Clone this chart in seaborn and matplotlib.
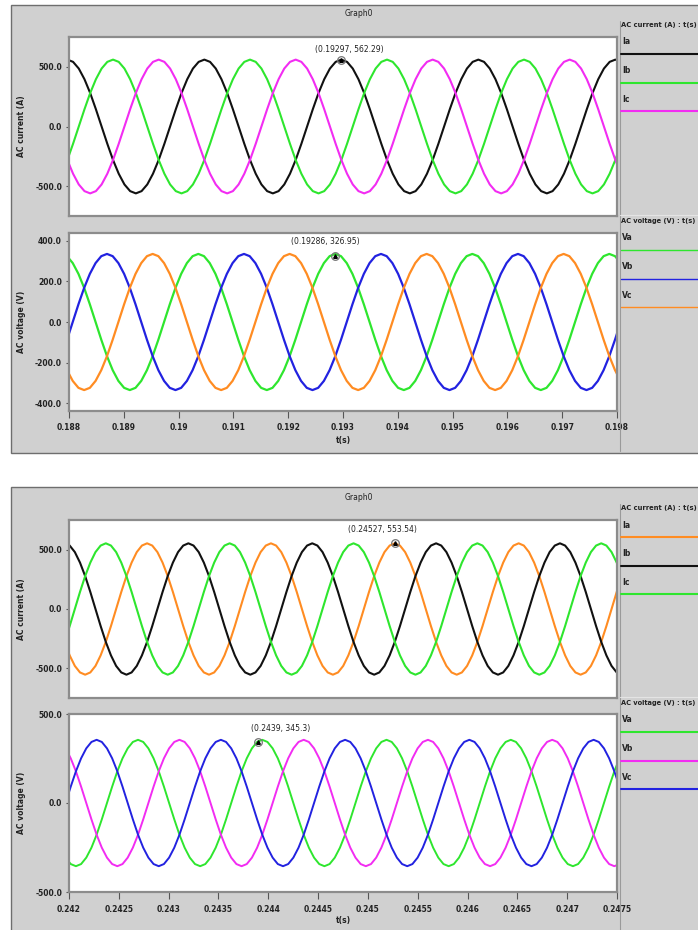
import numpy as np
import pandas as pd
import matplotlib
matplotlib.use("Agg")
import matplotlib.pyplot as plt
import seaborn as sns
from matplotlib.lines import Line2D
from matplotlib.patches import Rectangle

# ---------------- data ----------------
# Screenshot 1: t = 0.188 .. 0.198 s
t_cur1 = np.linspace(0.18797, 0.198074, 98)
ia1 = [562, 543, 487, 397, 281, 145, 0, -145, -281, -397, -487, -543, -562, -543, -487, -397, -281, -145, 0, 145, 281, 397, 487, 543,
       562, 543, 487, 397, 281, 145, 0, -145, -281, -397, -487, -543, -562, -543, -487, -397, -281, -145, 0, 145, 281, 397, 487, 543,
       562, 543, 487, 397, 281, 145, 0, -145, -281, -397, -487, -543, -562, -543, -487, -397, -281, -145, 0, 145, 281, 397, 487, 543,
       562, 543, 487, 397, 281, 145, 0, -145, -281, -397, -487, -543, -562, -543, -487, -397, -281, -145, 0, 145, 281, 397, 487, 543,
       562, 543]
ib1 = [-281, -145, 0, 145, 281, 397, 487, 543, 562, 543, 487, 397, 281, 145, 0, -145, -281, -397, -487, -543, -562, -543, -487, -397,
       -281, -145, 0, 145, 281, 397, 487, 543, 562, 543, 487, 397, 281, 145, 0, -145, -281, -397, -487, -543, -562, -543, -487, -397,
       -281, -145, 0, 145, 281, 397, 487, 543, 562, 543, 487, 397, 281, 145, 0, -145, -281, -397, -487, -543, -562, -543, -487, -397,
       -281, -145, 0, 145, 281, 397, 487, 543, 562, 543, 487, 397, 281, 145, 0, -145, -281, -397, -487, -543, -562, -543, -487, -397,
       -281, -145]
ic1 = [-281, -397, -487, -543, -562, -543, -487, -397, -281, -145, 0, 145, 281, 397, 487, 543, 562, 543, 487, 397, 281, 145, 0, -145,
       -281, -397, -487, -543, -562, -543, -487, -397, -281, -145, 0, 145, 281, 397, 487, 543, 562, 543, 487, 397, 281, 145, 0, -145,
       -281, -397, -487, -543, -562, -543, -487, -397, -281, -145, 0, 145, 281, 397, 487, 543, 562, 543, 487, 397, 281, 145, 0, -145,
       -281, -397, -487, -543, -562, -543, -487, -397, -281, -145, 0, 145, 281, 397, 487, 543, 562, 543, 487, 397, 281, 145, 0, -145,
       -281, -397]

t_vol1 = np.linspace(0.187964, 0.198068, 98)
va1 = [324, 290, 237, 168, 87, 0, -87, -168, -237, -290, -324, -335, -324, -290, -237, -168, -87, 0, 87, 168, 237, 290, 324, 335,
       324, 290, 237, 168, 87, 0, -87, -168, -237, -290, -324, -335, -324, -290, -237, -168, -87, 0, 87, 168, 237, 290, 324, 335,
       324, 290, 237, 168, 87, 0, -87, -168, -237, -290, -324, -335, -324, -290, -237, -168, -87, 0, 87, 168, 237, 290, 324, 335,
       324, 290, 237, 168, 87, 0, -87, -168, -237, -290, -324, -335, -324, -290, -237, -168, -87, 0, 87, 168, 237, 290, 324, 335,
       324, 290]
vb1 = [-87, 0, 87, 168, 237, 290, 324, 335, 324, 290, 237, 168, 87, 0, -87, -168, -237, -290, -324, -335, -324, -290, -237, -168,
       -87, 0, 87, 168, 237, 290, 324, 335, 324, 290, 237, 168, 87, 0, -87, -168, -237, -290, -324, -335, -324, -290, -237, -168,
       -87, 0, 87, 168, 237, 290, 324, 335, 324, 290, 237, 168, 87, 0, -87, -168, -237, -290, -324, -335, -324, -290, -237, -168,
       -87, 0, 87, 168, 237, 290, 324, 335, 324, 290, 237, 168, 87, 0, -87, -168, -237, -290, -324, -335, -324, -290, -237, -168,
       -87, 0]
vc1 = [-237, -290, -324, -335, -324, -290, -237, -168, -87, 0, 87, 168, 237, 290, 324, 335, 324, 290, 237, 168, 87, 0, -87, -168,
       -237, -290, -324, -335, -324, -290, -237, -168, -87, 0, 87, 168, 237, 290, 324, 335, 324, 290, 237, 168, 87, 0, -87, -168,
       -237, -290, -324, -335, -324, -290, -237, -168, -87, 0, 87, 168, 237, 290, 324, 335, 324, 290, 237, 168, 87, 0, -87, -168,
       -237, -290, -324, -335, -324, -290, -237, -168, -87, 0, 87, 168, 237, 290, 324, 335, 324, 290, 237, 168, 87, 0, -87, -168,
       -237, -290]

# Screenshot 2: t = 0.242 .. 0.2475 s
t_cur2 = np.linspace(0.241955, 0.247549, 109)
ia2 = [-278, -392, -481, -536, -555, -536, -481, -392, -278, -144, 0, 144, 278, 392, 481, 536, 555, 536, 481, 392, 278, 144, 0, -144,
       -278, -392, -481, -536, -555, -536, -481, -392, -278, -144, 0, 144, 278, 392, 481, 536, 555, 536, 481, 392, 278, 144, 0, -144,
       -278, -392, -481, -536, -555, -536, -481, -392, -278, -144, 0, 144, 278, 392, 481, 536, 555, 536, 481, 392, 278, 144, 0, -144,
       -278, -392, -481, -536, -555, -536, -481, -392, -278, -144, 0, 144, 278, 392, 481, 536, 555, 536, 481, 392, 278, 144, 0, -144,
       -278, -392, -481, -536, -555, -536, -481, -392, -278, -144, 0, 144, 278]
ib2 = [555, 536, 481, 392, 278, 144, 0, -144, -278, -392, -481, -536, -555, -536, -481, -392, -278, -144, 0, 144, 278, 392, 481, 536,
       555, 536, 481, 392, 278, 144, 0, -144, -278, -392, -481, -536, -555, -536, -481, -392, -278, -144, 0, 144, 278, 392, 481, 536,
       555, 536, 481, 392, 278, 144, 0, -144, -278, -392, -481, -536, -555, -536, -481, -392, -278, -144, 0, 144, 278, 392, 481, 536,
       555, 536, 481, 392, 278, 144, 0, -144, -278, -392, -481, -536, -555, -536, -481, -392, -278, -144, 0, 144, 278, 392, 481, 536,
       555, 536, 481, 392, 278, 144, 0, -144, -278, -392, -481, -536, -555]
ic2 = [-278, -144, 0, 144, 278, 392, 481, 536, 555, 536, 481, 392, 278, 144, 0, -144, -278, -392, -481, -536, -555, -536, -481, -392,
       -278, -144, 0, 144, 278, 392, 481, 536, 555, 536, 481, 392, 278, 144, 0, -144, -278, -392, -481, -536, -555, -536, -481, -392,
       -278, -144, 0, 144, 278, 392, 481, 536, 555, 536, 481, 392, 278, 144, 0, -144, -278, -392, -481, -536, -555, -536, -481, -392,
       -278, -144, 0, 144, 278, 392, 481, 536, 555, 536, 481, 392, 278, 144, 0, -144, -278, -392, -481, -536, -555, -536, -481, -392,
       -278, -144, 0, 144, 278, 392, 481, 536, 555, 536, 481, 392, 278]

t_vol2 = np.linspace(0.2419655, 0.2475252, 108)
va2 = [-307, -343, -355, -343, -307, -251, -178, -92, 0, 92, 178, 251, 307, 343, 355, 343, 307, 251, 178, 92, 0, -92, -178, -251,
       -307, -343, -355, -343, -307, -251, -178, -92, 0, 92, 178, 251, 307, 343, 355, 343, 307, 251, 178, 92, 0, -92, -178, -251,
       -307, -343, -355, -343, -307, -251, -178, -92, 0, 92, 178, 251, 307, 343, 355, 343, 307, 251, 178, 92, 0, -92, -178, -251,
       -307, -343, -355, -343, -307, -251, -178, -92, 0, 92, 178, 251, 307, 343, 355, 343, 307, 251, 178, 92, 0, -92, -178, -251,
       -307, -343, -355, -343, -307, -251, -178, -92, 0, 92, 178, 251]
vb2 = [307, 251, 178, 92, 0, -92, -178, -251, -307, -343, -355, -343, -307, -251, -178, -92, 0, 92, 178, 251, 307, 343, 355, 343,
       307, 251, 178, 92, 0, -92, -178, -251, -307, -343, -355, -343, -307, -251, -178, -92, 0, 92, 178, 251, 307, 343, 355, 343,
       307, 251, 178, 92, 0, -92, -178, -251, -307, -343, -355, -343, -307, -251, -178, -92, 0, 92, 178, 251, 307, 343, 355, 343,
       307, 251, 178, 92, 0, -92, -178, -251, -307, -343, -355, -343, -307, -251, -178, -92, 0, 92, 178, 251, 307, 343, 355, 343,
       307, 251, 178, 92, 0, -92, -178, -251, -307, -343, -355, -343]
vc2 = [0, 92, 178, 251, 307, 343, 355, 343, 307, 251, 178, 92, 0, -92, -178, -251, -307, -343, -355, -343, -307, -251, -178, -92,
       0, 92, 178, 251, 307, 343, 355, 343, 307, 251, 178, 92, 0, -92, -178, -251, -307, -343, -355, -343, -307, -251, -178, -92,
       0, 92, 178, 251, 307, 343, 355, 343, 307, 251, 178, 92, 0, -92, -178, -251, -307, -343, -355, -343, -307, -251, -178, -92,
       0, 92, 178, 251, 307, 343, 355, 343, 307, 251, 178, 92, 0, -92, -178, -251, -307, -343, -355, -343, -307, -251, -178, -92,
       0, 92, 178, 251, 307, 343, 355, 343, 307, 251, 178, 92]

# cursor read-outs
cursor_cur1 = (0.19297, 562.29)
cursor_vol1 = (0.19286, 326.95)
cursor_cur2 = (0.24527, 553.54)
cursor_vol2 = (0.2439, 345.3)

# ticks
x_ticks1 = [0.188, 0.189, 0.19, 0.191, 0.192, 0.193, 0.194, 0.195, 0.196, 0.197, 0.198]
x_labels1 = ["0.188", "0.189", "0.19", "0.191", "0.192", "0.193", "0.194",
             "0.195", "0.196", "0.197", "0.198"]
x_ticks2 = [0.242, 0.2425, 0.243, 0.2435, 0.244, 0.2445, 0.245, 0.2455,
            0.246, 0.2465, 0.247, 0.2475]
x_labels2 = ["0.242", "0.2425", "0.243", "0.2435", "0.244", "0.2445", "0.245",
             "0.2455", "0.246", "0.2465", "0.247", "0.2475"]
i_ticks = [-500, 0, 500]
i_labels = ["-500.0", "0.0", "500.0"]
v_ticks1 = [-400, -200, 0, 200, 400]
v_labels1 = ["-400.0", "-200.0", "0.0", "200.0", "400.0"]
v_ticks2 = [-500, 0, 500]
v_labels2 = ["-500.0", "0.0", "500.0"]

cur_names = ["Ia", "Ib", "Ic"]
vol_names = ["Va", "Vb", "Vc"]

BLACK, GREEN, MAGENTA, BLUE, ORANGE = "#111111", "#2ee62e", "#f22cf2", "#2222e0", "#ff8c22"
cur1_colors = [BLACK, GREEN, MAGENTA]
vol1_colors = [GREEN, BLUE, ORANGE]
cur2_colors = [ORANGE, BLACK, GREEN]
vol2_colors = [GREEN, MAGENTA, BLUE]

# ---------------- figure ----------------
sns.set_theme(style="white")
plt.rcParams['font.family'] = ['DejaVu Sans']

W, H = 698, 930
fig = plt.figure(figsize=(W / 100, H / 100), dpi=100)
fig.patch.set_facecolor("white")
renderer = fig.canvas.get_renderer()

FS = 5.5
BG = "#d0d0d0"
EDGE = "#8c8c8c"
TXT = "#222222"


def fx(x):
    return x / W


def fy(y):
    return 1 - y / H


def box(x0, y0, x1, y1):
    return [fx(x0), fy(y1), (x1 - x0) / W, (y1 - y0) / H]


# grey screenshot frames
for (y0, y1) in [(5, 452.7), (487, 935)]:
    fig.add_artist(Rectangle((fx(11), fy(y1)), (W + 5 - 11) / W, (y1 - y0) / H,
                             transform=fig.transFigure, facecolor=BG,
                             edgecolor="#6e6e6e", lw=1.0, zorder=0))


def make_axes(y0, y1):
    ax = fig.add_axes(box(69, y0, 617, y1))
    ax.set_facecolor("white")
    for s in ax.spines.values():
        s.set_color(EDGE)
        s.set_linewidth(1.6)
        s.set_visible(True)
    return ax


def draw(ax, t, series, names, colors, lw):
    df = pd.concat([pd.DataFrame({"t": t, "value": v, "phase": n})
                    for v, n in zip(series, names)], ignore_index=True)
    sns.lineplot(data=df, x="t", y="value", hue="phase", palette=colors,
                 estimator=None, sort=False, legend=False, lw=lw, ax=ax)
    ax.set_xlabel("")
    ax.set_ylabel("")


def style_y(ax, ticks, labels, lim, ylabel):
    ax.set_ylim(-lim, lim)
    ax.set_yticks(ticks)
    ax.set_yticklabels(labels, fontsize=FS, fontweight="bold", color=TXT)
    ax.tick_params(axis="y", left=True, length=2, width=0.8, color="#555555", pad=3)
    ax.set_ylabel(ylabel, fontsize=FS, fontweight="bold", color=TXT)
    ax.yaxis.set_label_coords(-0.078, 0.5)


def style_x(ax, lim, ticks, labels, show):
    ax.set_xlim(*lim)
    if show:
        ax.set_xticks(ticks)
        ax.set_xticklabels(labels, fontsize=FS, fontweight="bold", color=TXT)
        ax.tick_params(axis="x", bottom=True, length=5, width=0.8, color="#555555", pad=4)
    else:
        ax.set_xticks([])


def cursor(ax, pt, dx, dy):
    ax.plot([pt[0]], [pt[1]], marker="o", ms=5.5, mfc="none", mec="#777777", mew=0.9, zorder=5)
    ax.plot([pt[0]], [pt[1]], marker="^", ms=2.6, color="black", zorder=6)
    ax.annotate(f"({pt[0]:g}, {pt[1]:g})", xy=pt, xytext=(dx, dy),
                textcoords="offset pixels", ha="center", va="center",
                fontsize=FS, color=TXT)


def fitted_text(x, y, s, max_px):
    t = fig.text(fx(x), fy(y), s, fontsize=FS, fontweight="bold",
                 ha="left", va="center", color=TXT)
    w = t.get_window_extent(renderer=renderer).width
    if w > max_px:
        t.set_fontsize(FS * max_px / w)
    return t


panels = [
    dict(yc=(37, 216), yv=(233, 411), xlim=(0.188, 0.198), xt=x_ticks1, xl=x_labels1,
         tc=t_cur1, cur=[ia1, ib1, ic1], cc=cur1_colors,
         tv=t_vol1, vol=[va1, vb1, vc1], vcol=vol1_colors, vlw=1.6,
         vt=v_ticks1, vl=v_labels1, vlim=438,
         cc_pt=cursor_cur1, cc_off=(8, 10), cv_pt=cursor_vol1, cv_off=(-10, 14),
         title_y=13, xlab_y=440, leg_c=25, leg_v=221, vleg_lw=1.0),
    dict(yc=(520, 698), yv=(714, 892), xlim=(0.242, 0.2475), xt=x_ticks2, xl=x_labels2,
         tc=t_cur2, cur=[ia2, ib2, ic2], cc=cur2_colors,
         tv=t_vol2, vol=[va2, vb2, vc2], vcol=vol2_colors, vlw=1.4,
         vt=v_ticks2, vl=v_labels2, vlim=500,
         cc_pt=cursor_cur2, cc_off=(-12, 14), cv_pt=cursor_vol2, cv_off=(22, 13),
         title_y=497, xlab_y=920, leg_c=508, leg_v=703, vleg_lw=1.5),
]

for p in panels:
    axc = make_axes(*p["yc"])
    draw(axc, p["tc"], p["cur"], cur_names, p["cc"], 1.5)
    style_x(axc, p["xlim"], p["xt"], p["xl"], False)
    style_y(axc, i_ticks, i_labels, 752, "AC current (A)")
    cursor(axc, p["cc_pt"], *p["cc_off"])

    axv = make_axes(*p["yv"])
    draw(axv, p["tv"], p["vol"], vol_names, p["vcol"], p["vlw"])
    style_x(axv, p["xlim"], p["xt"], p["xl"], True)
    style_y(axv, p["vt"], p["vl"], p["vlim"], "AC voltage (V)")
    cursor(axv, p["cv_pt"], *p["cv_off"])

    fig.text(fx(359), fy(p["title_y"]), "Graph0", fontsize=FS, ha="center", va="center",
             color=TXT)
    fig.text(fx(343), fy(p["xlab_y"]), "t(s)", fontsize=FS, fontweight="bold",
             ha="center", va="center", color=TXT)

    # legend column
    fig.add_artist(Line2D([fx(619.5), fx(619.5)], [fy(p["yc"][0] - 16), fy(p["yv"][1] + 40)],
                          transform=fig.transFigure, color="#9a9a9a", lw=0.8))
    fig.add_artist(Line2D([fx(620), fx(700)], [fy(p["leg_v"] - 6), fy(p["leg_v"] - 6)],
                          transform=fig.transFigure, color="#e4e4e4", lw=0.8))
    for base, head, names, cols, lw in [
        (p["leg_c"], "AC current (A) : t(s)", cur_names, p["cc"], 1.5),
        (p["leg_v"], "AC voltage (V) : t(s)", vol_names, p["vcol"], p["vleg_lw"]),
    ]:
        fitted_text(621, base, head, 75)
        for i, (n, c) in enumerate(zip(names, cols)):
            ty = base + 17 + i * 28.7
            fig.text(fx(622), fy(ty), n, fontsize=FS, fontweight="bold",
                     ha="left", va="center", color=TXT)
            fig.add_artist(Line2D([fx(621), fx(700)], [fy(ty + 12), fy(ty + 12)],
                                  transform=fig.transFigure, color=c, lw=lw))

fig.savefig("out.png", dpi=100, facecolor=fig.get_facecolor())
